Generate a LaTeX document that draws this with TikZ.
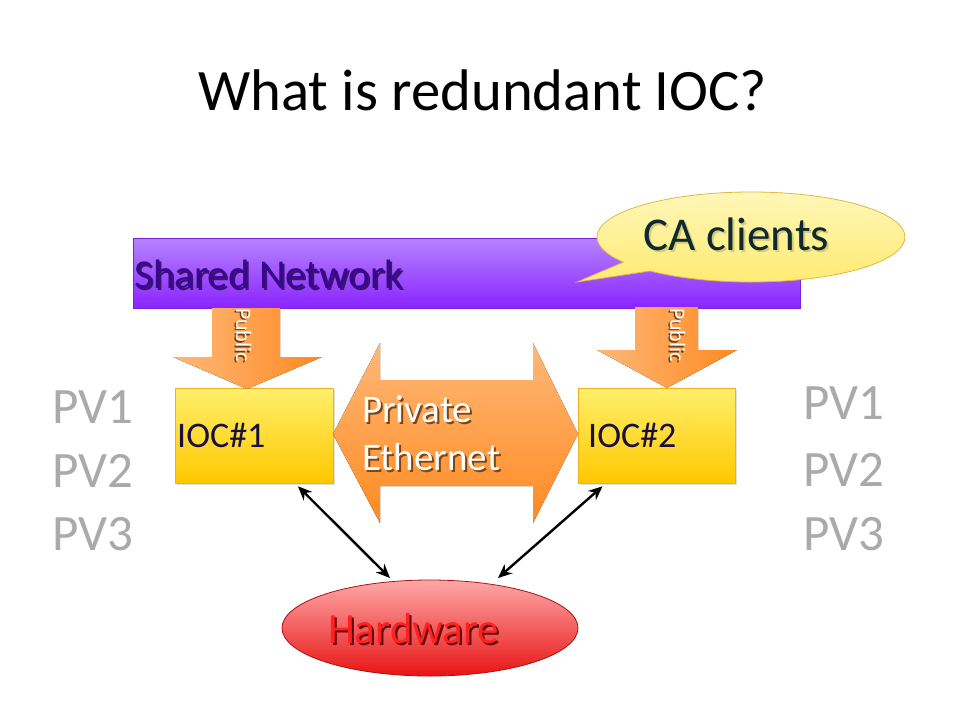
\documentclass[tikz,border=0pt]{standalone}
\usepackage{fontspec}
\setmainfont{Carlito}
\usetikzlibrary{shapes.geometric,shapes.callouts,arrows.meta,shadows,calc}
\definecolor{netTop}{HTML}{B583FF}
\definecolor{netBot}{HTML}{8A25FF}
\definecolor{netLine}{HTML}{7A22D8}
\definecolor{netText}{HTML}{38088A}
\definecolor{caTop}{HTML}{FFF7B8}
\definecolor{caBot}{HTML}{FFEA70}
\definecolor{caLine}{HTML}{E0B840}
\definecolor{caText}{HTML}{0E2A30}
\definecolor{orLight}{HTML}{FFB878}
\definecolor{orDark}{HTML}{FF8A22}
\definecolor{iocTop}{HTML}{FFEF6A}
\definecolor{iocBot}{HTML}{FFC800}
\definecolor{iocLine}{HTML}{F0B020}
\definecolor{iocText}{HTML}{1A1040}
\definecolor{hwTop}{HTML}{FFA8A8}
\definecolor{hwBot}{HTML}{E81414}
\definecolor{hwLine}{HTML}{B01010}
\definecolor{hwText}{HTML}{FF2020}
\definecolor{pvGray}{HTML}{AAAAAA}
\newcommand\shdwtext[3]{\rlap{\kern#3\raisebox{-#3}{\textcolor{#1}{#2}}}#2}
\tikzset{
  txt/.style={inner sep=0pt, anchor=base west},
  netbar/.style={rectangle, draw=netLine, line width=0.8pt, top color=netTop, bottom color=netBot, minimum width=667pt, minimum height=70pt, inner sep=0pt},
  iocbox/.style={rectangle, draw=iocLine, line width=0.6pt, top color=iocTop, bottom color=iocBot, minimum height=95pt, inner sep=0pt, drop shadow={shadow xshift=2pt, shadow yshift=-2pt, opacity=0.25}},
  hwell/.style={ellipse, draw=hwLine, line width=0.8pt, top color=hwTop, bottom color=hwBot, minimum width=296pt, minimum height=96pt, inner sep=0pt},
  cacall/.style={ellipse callout, draw=caLine, line width=0.8pt, top color=caTop, bottom color=caBot, minimum width=308pt, minimum height=90pt, inner sep=0pt},
  orarrow/.style={left color=orLight, right color=orDark, draw=none},
  link/.style={{Stealth[length=14pt,width=12pt]}-{Stealth[length=14pt,width=12pt]}, line width=2.4pt, black},
  pv/.style={txt, text=pvGray, font=\fontsize{51}{60}\selectfont},
  pubtxt/.style={inner sep=0pt, rotate=-90, font=\fontsize{22}{24}\selectfont, text=white},
}
\begin{document}
\begin{tikzpicture}[x=1pt,y=-1pt]
\useasboundingbox[fill=white] (0,0) rectangle (960,720);

% title
\node[txt, font=\fontsize{58.7}{70}\selectfont] (title) at (198,110) {What is redundant IOC?};

% shared network bar
\node[netbar] (net) at (466.5,273) {};
\node[txt, font=\fontsize{41}{48}\selectfont, text=netText] (nett) at (134,288) {\shdwtext{netBot!45!black}{Shared Network}{2pt}};

% CA clients callout
\node[cacall, callout absolute pointer={(577,282)}] (ca) at (751,237) {};
\node[txt, font=\fontsize{47}{54}\selectfont, text=caText] (cat) at (643,250) {\shdwtext{caBot!70!gray}{CA clients}{2pt}};

% IOC boxes
\node[iocbox, minimum width=158pt] (ioc1) at (254,435.5) {};
\node[iocbox, minimum width=157pt] (ioc2) at (656.5,435.5) {};
\node[txt, font=\fontsize{36}{40}\selectfont, text=iocText] (ioc1t) at (177,447) {IOC\#1};
\node[txt, font=\fontsize{36}{40}\selectfont, text=iocText] (ioc2t) at (588,447) {IOC\#2};

% public arrows
\fill[orarrow] (212,308) -- (280,308) -- (280,357) -- (322,357) -- (247,389) -- (173,357) -- (212,357) -- cycle;
\fill[orarrow] (635,307) -- (698,307) -- (698,350) -- (737,350) -- (667,388) -- (597,350) -- (635,350) -- cycle;
\node[pubtxt] (pub1) at (243,335) {\shdwtext{orDark!45!black}{Public}{1.5pt}};
\node[pubtxt] (pub2) at (677,335) {\shdwtext{orDark!45!black}{Public}{1.5pt}};

% private ethernet double arrow
\fill[top color=orLight, bottom color=orDark] (333,434) -- (380,343) -- (380,380) -- (533,380) -- (533,343) -- (578,434) -- (533,523) -- (533,486) -- (380,486) -- (380,523) -- cycle;
\node[txt, font=\fontsize{39}{46}\selectfont, text=white] (pe1) at (362,422) {\shdwtext{orDark!50!black}{Private}{2pt}};
\node[txt, font=\fontsize{39}{46}\selectfont, text=white] (pe2) at (362,470) {\shdwtext{orDark!50!black}{Ethernet}{2pt}};

% hardware
\node[hwell] (hw) at (430,628) {};
\node[txt, font=\fontsize{43}{50}\selectfont, text=hwText] (hwt) at (328,643) {\shdwtext{hwBot!40!black}{Hardware}{2pt}};

% links
\coordinate (h1) at ($(hw.center)+(-40,-50)$);
\coordinate (h2) at ($(hw.center)+(68,-50)$);
\draw[link] ([xshift=44pt,yshift=-3pt]ioc1.south) -- (h1);
\draw[link] ([xshift=-54pt,yshift=-3pt]ioc2.south) -- (h2);

% PV lists
\node[pv] (pvl1) at (52,423) {PV1};
\node[pv] (pvl2) at (52,487) {PV2};
\node[pv] (pvl3) at (52,550) {PV3};
\node[pv] (pvr1) at (803,419) {PV1};
\node[pv] (pvr2) at (803,486) {PV2};
\node[pv] (pvr3) at (803,550) {PV3};
\end{tikzpicture}
\end{document}
